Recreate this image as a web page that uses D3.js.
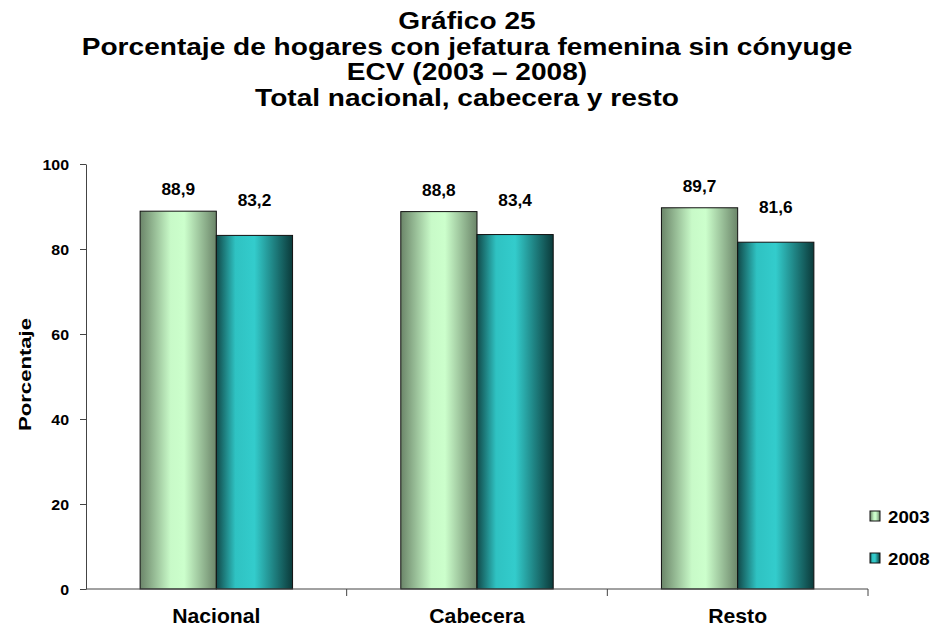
<!DOCTYPE html>
<html>
<head>
<meta charset="utf-8">
<script src="https://cdn.jsdelivr.net/npm/d3@7"></script>
<style>
  body { margin: 0; background: #fff; }
  text { font-family: "Liberation Sans", Arial, sans-serif; font-weight: bold; }
</style>
</head>
<body>
<svg id="chart"></svg>
<script>
// chart data
const categories = ["Nacional", "Cabecera", "Resto"];
const years = ["2003", "2008"];
const values2003 = [88.9, 88.8, 89.7];
const values2008 = [83.2, 83.4, 81.6];
const yTicks = [0, 20, 40, 60, 80, 100];
const titleLines = [
  "Gráfico 25",
  "Porcentaje de hogares con jefatura femenina sin cónyuge",
  "ECV (2003 – 2008)",
  "Total nacional, cabecera y resto"
];

const width = 934, height = 628;
const margin = {top: 164, right: 66, bottom: 39, left: 86};

const svg = d3.select("#chart")
    .attr("width", width)
    .attr("height", height)
    .attr("viewBox", [0, 0, width, height]);

// the original text looks stretched sideways, so scale it horizontally
const place = (sel, fx, fy, sx) =>
  sel.attr("transform", (d, i) => `translate(${fx(d, i)},${fy(d, i)}) scale(${sx},1)`);

// gradients to imitate the cylinder-ish shading
const defs = svg.append("defs");
const gradStops = {
  "2003": [["0%", "#6b8569"], ["40%", "#c8fac8"], ["58%", "#ccffcc"], ["100%", "#6b8569"]],
  "2008": [["0%", "#114a4a"], ["25%", "#2fc2c2"], ["50%", "#33cccc"], ["100%", "#0b3a3a"]]
};
years.forEach(yr => {
  const g = defs.append("linearGradient").attr("id", "g" + yr)
      .attr("x1", "0%").attr("x2", "100%").attr("y1", "0%").attr("y2", "0%");
  gradStops[yr].forEach(([o, c]) => g.append("stop").attr("offset", o).attr("stop-color", c));
});

const data = categories.map((c, i) => ({cat: c, vals: [values2003[i], values2008[i]]}));

const x = d3.scaleBand()
    .domain(categories)
    .range([margin.left, width - margin.right]);

const inner = d3.scaleBand()
    .domain(years)
    .range([0, x.bandwidth()])
    .paddingOuter(0.71)
    .paddingInner(0);

const y = d3.scaleLinear()
    .domain([0, 100])
    .range([height - margin.bottom, margin.top]);

// title
place(svg.append("g")
  .selectAll("text")
  .data(titleLines)
  .join("text")
    .attr("text-anchor", "middle")
    .attr("font-size", 24)
    .text(d => d), () => 467, (d, i) => 29 + i * 25.6, 1.17);

// y axis
svg.append("g")
    .attr("transform", `translate(${margin.left},0)`)
    .call(d3.axisLeft(y).tickValues(yTicks).tickSize(6).tickSizeOuter(0).tickPadding(0))
    .call(g => g.selectAll("line, path").attr("stroke", "#444"))
    .call(g => g.selectAll("text")
        .attr("x", null).attr("dy", null)
        .attr("font-size", 14).attr("fill", "#000")
        .attr("transform", "translate(-17,5) scale(1.14,1)")
        .style("font-family", "Liberation Sans, Arial, sans-serif").style("font-weight", "bold"));

// y axis title
svg.append("text")
    .attr("transform", `translate(31,${(margin.top + height - margin.bottom) / 2 - 2}) rotate(-90) scale(1.3,1)`)
    .attr("text-anchor", "middle")
    .attr("font-size", 17)
    .text("Porcentaje");

// bars
const groups = svg.append("g")
  .selectAll("g")
  .data(data)
  .join("g")
    .attr("transform", d => `translate(${x(d.cat)},0)`);

groups.selectAll("rect")
  .data(d => d.vals.map((v, j) => ({year: years[j], v})))
  .join("rect")
    .attr("x", d => inner(d.year))
    .attr("y", d => y(d.v))
    .attr("width", inner.bandwidth())
    .attr("height", d => y(0) - y(d.v))
    .attr("fill", d => `url(#g${d.year})`)
    .attr("stroke", "#111")
    .attr("stroke-width", 1);

place(groups.selectAll("text.val")
  .data(d => d.vals.map((v, j) => ({year: years[j], v})))
  .join("text")
    .attr("class", "val")
    .attr("text-anchor", "middle")
    .attr("font-size", 16)
    .text(d => d3.format(".1f")(d.v).replace(".", ",")),
  d => inner(d.year) + inner.bandwidth() / 2,
  d => y(d.v) - (d.year === "2003" ? 16 : 29), 1.08);

// x axis with ticks at category boundaries
const xAxisG = svg.append("g")
    .attr("transform", `translate(0,${y(0)})`);
xAxisG.append("line")
    .attr("x1", margin.left).attr("x2", width - margin.right)
    .attr("stroke", "#444");
xAxisG.selectAll("line.tick")
  .data(categories)
  .join("line")
    .attr("class", "tick")
    .attr("x1", d => x(d) + x.bandwidth()).attr("x2", d => x(d) + x.bandwidth())
    .attr("y1", 0).attr("y2", 7)
    .attr("stroke", "#444");
place(xAxisG.selectAll("text")
  .data(categories)
  .join("text")
    .attr("text-anchor", "middle")
    .attr("font-size", 20)
    .text(d => d), d => x(d) + x.bandwidth() / 2, () => 34, 1.06);

// legend
const legend = svg.append("g")
  .selectAll("g")
  .data(years)
  .join("g")
    .attr("transform", (d, i) => `translate(870,${511 + i * 42})`);
legend.append("rect")
    .attr("width", 10).attr("height", 10)
    .attr("fill", d => `url(#g${d})`)
    .attr("stroke", "#111");
legend.append("text")
    .attr("transform", "translate(18,12) scale(1.17,1)")
    .attr("font-size", 16)
    .text(d => d);
</script>
</body>
</html>
